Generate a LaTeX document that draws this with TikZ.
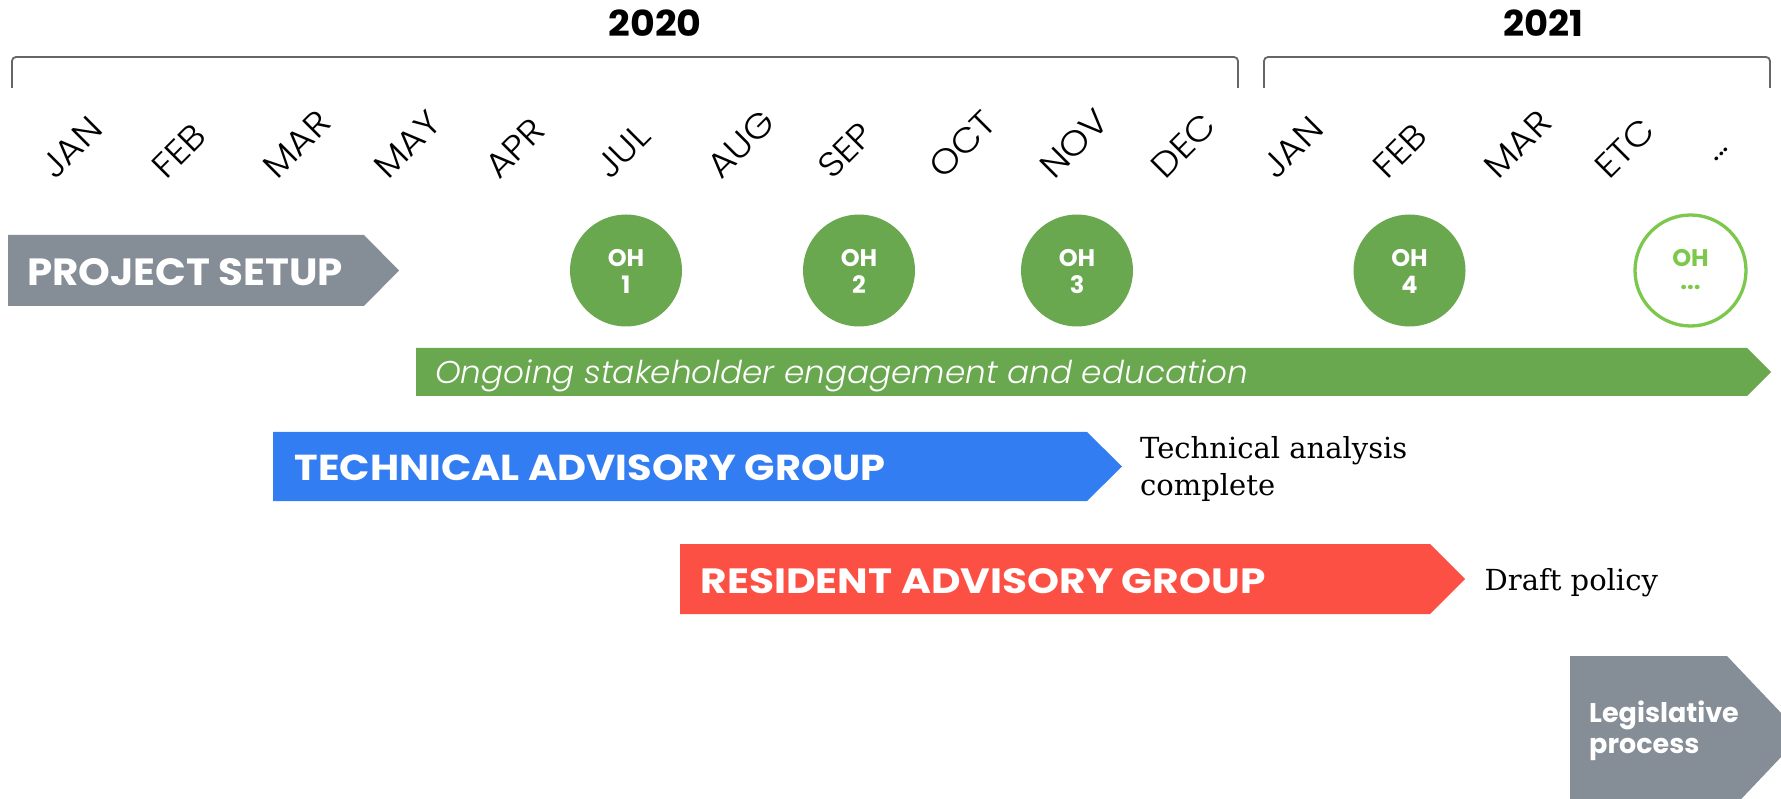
\documentclass[tikz,border=0pt]{standalone}
\usepackage{fontspec}
\usepackage{graphicx}
\setmainfont{Poppins}
\newfontfamily\plight{Poppins Light}[ItalicFont={Poppins Light Italic}]
\newfontfamily\monthfont{Poppins Light}[FakeStretch=1.1]
\newfontfamily\serifx{DejaVu Serif}
\definecolor{boxgray}{RGB}{133,141,150}
\definecolor{ohgreen}{RGB}{106,168,79}
\definecolor{ohlight}{RGB}{124,200,76}
\definecolor{tagblue}{RGB}{50,125,242}
\definecolor{ragred}{RGB}{252,80,68}
\definecolor{brgray}{RGB}{102,102,102}
\tikzset{
  month/.style={rotate=45, anchor=base west, inner sep=0pt, font=\monthfont\fontsize{34.5}{34.5}\selectfont},
  year/.style={anchor=base, inner sep=0pt, font=\bfseries},
  bracket/.style={draw=brgray, line width=1.8pt, rounded corners=4pt},
  ohfill/.style={circle, fill=ohgreen, minimum size=112pt, inner sep=0pt},
  ohopen/.style={circle, draw=ohlight, line width=3.3pt, fill=white, minimum size=111pt, inner sep=0pt},
  ohtext/.style={anchor=base, inner sep=0pt, text=white, font=\bfseries\fontsize{24}{24}\selectfont},
  boxlabel/.style={anchor=base west, inner sep=0pt, text=white, font=\bfseries},
  note/.style={anchor=base west, inner sep=0pt, font=\serifx\fontsize{29}{29}\selectfont},
}
\begin{document}
\begin{tikzpicture}[x=1pt,y=-1pt]
\useasboundingbox (0,0) rectangle (1781,799);
\clip (0,0) rectangle (1781,799);

% years
\node[year] (y2020) at (655,36.7) {\resizebox{93pt}{26.7pt}{2020}};
\node[year] (y2021) at (1543,36.7) {\resizebox{80pt}{26.7pt}{2021}};

% brackets
\draw[bracket] (12,88) -- (12,57) -- (1238,57) -- (1238,88);
\draw[bracket] (1264,88) -- (1264,57) -- (1770,57) -- (1770,88);

% months
\foreach \m [count=\i from 0] in {JAN,FEB,MAR,MAY,APR,JUL,AUG,SEP,OCT,NOV,DEC,JAN,FEB,MAR,ETC}
  \node[month] (m\i) at ({55+111*\i},181) {\m};
\node[month] (m15) at (1715,163) {...};

% project setup
\fill[boxgray] (8,235) -- (364,235) -- (399,270.5) -- (364,306) -- (8,306) -- cycle;
\node[boxlabel] (ps) at (27,286) {\resizebox{316pt}{27pt}{PROJECT SETUP}};

% office hours
\node[ohfill] (oh1) at (626,270.5) {};
\node[ohfill] (oh2) at (859,270.5) {};
\node[ohfill] (oh3) at (1077,270.5) {};
\node[ohfill] (oh4) at (1409.5,270.5) {};
\node[ohopen] (oh5) at (1690.5,270.5) {};
\foreach \n/\x/\t in {1/626/1,2/859/2,3/1077/3,4/1409.5/4}{
  \node[ohtext] (oht\n) at (\x,267) {OH};
  \node[ohtext] (ohn\n) at (\x,294) {\t};
}
\node[ohtext, text=ohlight] (oht5) at (1690.5,267) {OH};
\node[ohtext, text=ohlight] (ohn5) at (1690.5,290) {...};

% ongoing bar
\fill[ohgreen] (416,348) -- (1747,348) -- (1771,372) -- (1747,396) -- (416,396) -- cycle;
\node[anchor=base west, inner sep=0pt, text=white, font=\plight\itshape\fontsize{31.5}{31.5}\selectfont] (ong) at (435,384) {\scalebox{1.038}[1]{Ongoing stakeholder engagement and education}};

% technical advisory group
\fill[tagblue] (273,432) -- (1087,432) -- (1122,466.5) -- (1087,501) -- (273,501) -- cycle;
\node[boxlabel] (tag) at (294.4,480.7) {\resizebox{591pt}{25.7pt}{TECHNICAL ADVISORY GROUP}};
\node[note] (ta1) at (1140,458.3) {Technical analysis};
\node[note] (ta2) at (1140,496) {complete};

% resident advisory group
\fill[ragred] (680,544) -- (1430,544) -- (1465,579) -- (1430,614) -- (680,614) -- cycle;
\node[boxlabel] (rag) at (700.6,593) {\resizebox{564.5pt}{25pt}{RESIDENT ADVISORY GROUP}};
\node[note] (dp) at (1484.5,590.7) {Draft policy};

% legislative process
\fill[boxgray] (1570,656) -- (1727,656) -- (1802,735) -- (1727,814) -- (1570,814) -- cycle;
\node[anchor=base west, inner sep=0pt, text=white, font=\bfseries\fontsize{27}{27}\selectfont] (lp1) at (1589,722) {Legislative};
\node[anchor=base west, inner sep=0pt, text=white, font=\bfseries\fontsize{27}{27}\selectfont] (lp2) at (1589,753) {process};
\end{tikzpicture}
\end{document}
